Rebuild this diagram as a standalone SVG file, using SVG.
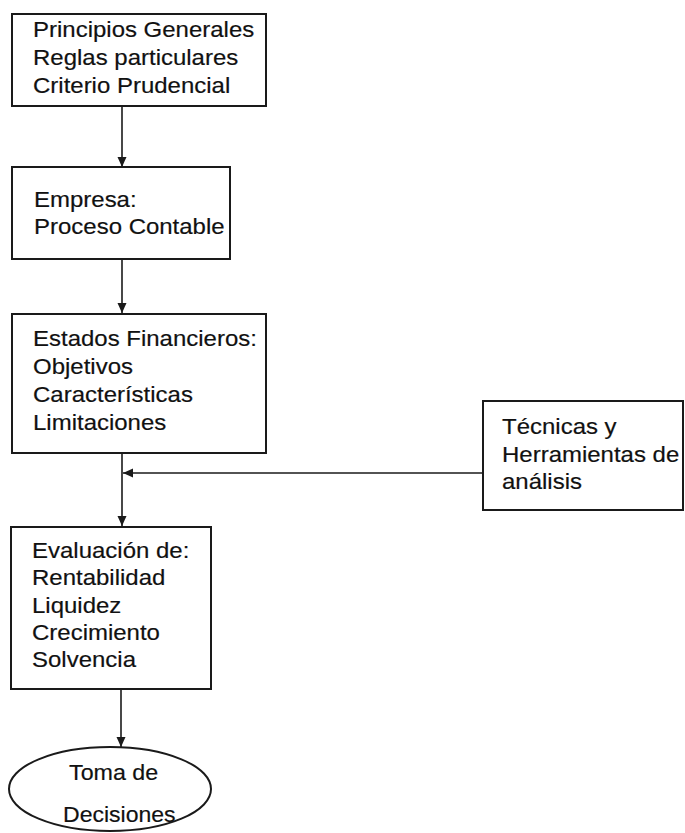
<svg xmlns="http://www.w3.org/2000/svg" width="685" height="833" viewBox="0 0 685 833">
<style>
.box{fill:#fff;stroke:#1a1a1a;stroke-width:2}
.t{font-family:"Liberation Sans",Arial,sans-serif;font-size:24px;fill:#111;stroke:#111;stroke-width:0.2}
.c{stroke:#1a1a1a;stroke-width:1.6;fill:none;marker-end:url(#ah)}
</style>
<defs>
<marker id="ah" markerUnits="userSpaceOnUse" markerWidth="11" markerHeight="10" refX="10" refY="4.5" orient="auto">
<path d="M0,0 L10,4.5 L0,9 z" fill="#1a1a1a"/>
</marker>
</defs>
<rect width="685" height="833" fill="#fff"/>
<g id="connectors">
<line class="c" x1="122" y1="107" x2="122" y2="167"/>
<line class="c" x1="122" y1="260" x2="122" y2="313"/>
<line class="c" x1="122" y1="454" x2="122" y2="526"/>
<line class="c" x1="483" y1="473" x2="123" y2="473"/>
<line class="c" x1="121" y1="690" x2="121" y2="747"/>
</g>
<g id="principios">
<rect class="box" x="12" y="14" width="254" height="92"/>
<text class="t" transform="translate(33,37) scale(1,0.93)"><tspan x="0" y="0">Principios Generales</tspan><tspan x="0" y="30.1">Reglas particulares</tspan><tspan x="0" y="60.2">Criterio Prudencial</tspan></text>
</g>
<g id="empresa">
<rect class="box" x="12" y="167" width="218" height="92"/>
<text class="t" transform="translate(34,207) scale(1,0.93)"><tspan x="0" y="0">Empresa:</tspan><tspan x="0" y="29">Proceso Contable</tspan></text>
</g>
<g id="estados">
<rect class="box" x="12" y="314" width="254" height="139"/>
<text class="t" transform="translate(33,346) scale(1,0.93)"><tspan x="0" y="0">Estados Financieros:</tspan><tspan x="0" y="30.1">Objetivos</tspan><tspan x="0" y="60.2">Características</tspan><tspan x="0" y="90.3">Limitaciones</tspan></text>
</g>
<g id="tecnicas">
<rect class="box" x="483" y="401" width="200" height="109"/>
<text class="t" transform="translate(502,434) scale(1,0.93)"><tspan x="0" y="0">Técnicas y</tspan><tspan x="0" y="29.6">Herramientas de</tspan><tspan x="0" y="59.1">análisis</tspan></text>
</g>
<g id="evaluacion">
<rect class="box" x="11" y="527" width="200" height="162"/>
<text class="t" transform="translate(32,558) scale(1,0.93)"><tspan x="0" y="0">Evaluación de:</tspan><tspan x="0" y="29.35">Rentabilidad</tspan><tspan x="0" y="58.7">Liquidez</tspan><tspan x="0" y="88.2">Crecimiento</tspan><tspan x="0" y="117.2">Solvencia</tspan></text>
</g>
<g id="decisiones">
<ellipse class="box" cx="110" cy="789" rx="101" ry="42"/>
<text class="t" transform="translate(69,780) scale(0.97,0.93)">Toma de</text>
<text class="t" transform="translate(63,822) scale(0.96,0.93)">Decisiones</text>
</g>
</svg>
